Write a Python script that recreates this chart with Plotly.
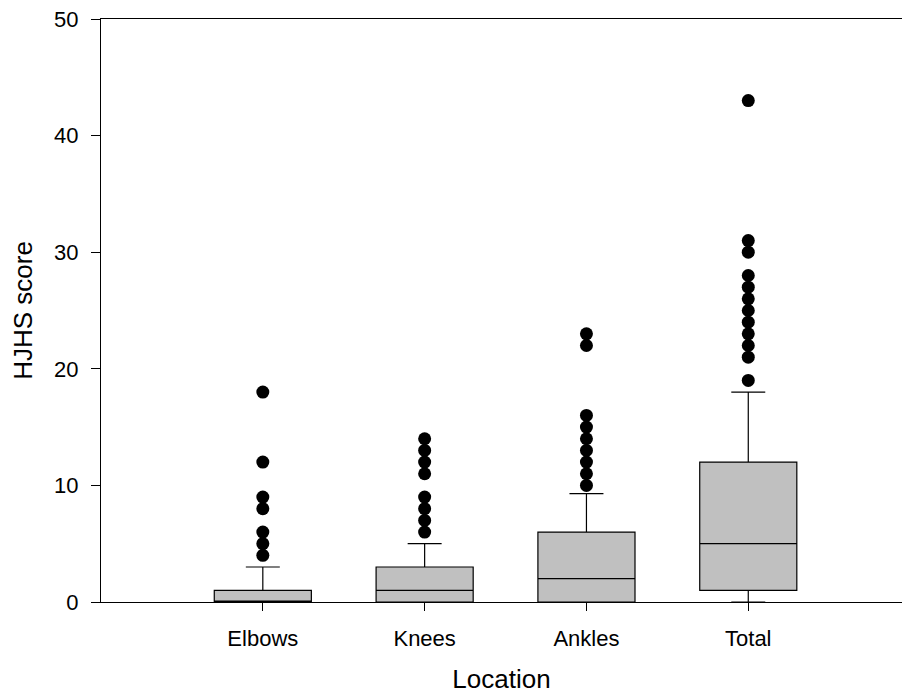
import plotly.graph_objects as go

categories = ["Elbows", "Knees", "Ankles", "Total"]
positions = [1, 2, 3, 4]
q1 = [0, 0, 0, 1]
median = [0, 1, 2, 5]
q3 = [1, 3, 6, 12]
lower_fence = [0, 0, 0, 0]
upper_fence = [3, 5, 9.3, 18]
outliers = [
    [4, 5, 6, 8, 9, 12, 18],
    [6, 7, 8, 9, 11, 12, 13, 14],
    [10, 11, 12, 13, 14, 15, 16, 22, 23],
    [19, 21, 22, 23, 24, 25, 26, 27, 28, 30, 31, 43],
]
y_ticks = [0, 10, 20, 30, 40, 50]

FONT = "Liberation Sans, Arial, sans-serif"

fig = go.Figure()
for i, pos in enumerate(positions):
    fig.add_trace(go.Box(
        x=[pos], q1=[q1[i]], median=[median[i]], q3=[q3[i]],
        lowerfence=[lower_fence[i]], upperfence=[upper_fence[i]],
        boxpoints=False, width=0.6, whiskerwidth=0.35,
        fillcolor="#c0c0c0", line=dict(color="black", width=1.2),
        showlegend=False, hoverinfo="skip",
    ))
    fig.add_trace(go.Scatter(
        x=[pos] * len(outliers[i]), y=outliers[i], mode="markers",
        marker=dict(color="black", size=13, line=dict(width=0)),
        showlegend=False, hoverinfo="skip",
    ))

fig.update_layout(
    width=902, height=697,
    margin=dict(l=101, r=0, t=19, b=95),
    paper_bgcolor="white", plot_bgcolor="white",
    font=dict(family=FONT, color="black", size=22),
    xaxis=dict(
        range=[0, 4.95], tickmode="array", tickvals=positions, ticktext=categories,
        ticks="outside", ticklen=8, tickcolor="black", tickwidth=1,
        showline=True, linecolor="black", linewidth=1, mirror=True,
        showgrid=False, zeroline=False,
        tickfont=dict(size=22, family=FONT), ticklabelstandoff=9,
        title=dict(text="Location", font=dict(size=26, family=FONT), standoff=19),
    ),
    yaxis=dict(
        range=[0, 50], tickmode="array", tickvals=y_ticks,
        ticks="outside", ticklen=9, tickcolor="black", tickwidth=1,
        showline=True, linecolor="black", linewidth=1,
        showgrid=False, zeroline=False,
        tickfont=dict(size=22, family=FONT), ticklabelstandoff=8,
        title=dict(text="HJHS score", font=dict(size=26, family=FONT), standoff=14),
    ),
)

fig.write_html("out.html", config={"displayModeBar": False},
               post_script="document.body.style.margin='0';")
